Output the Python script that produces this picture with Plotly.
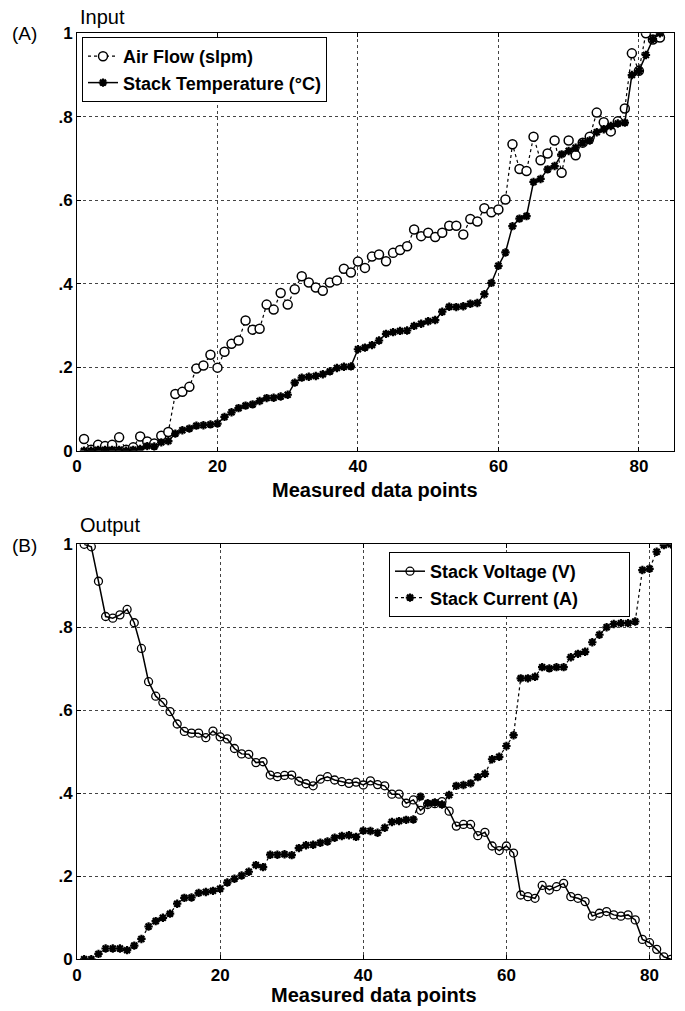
import plotly.graph_objects as go

# ---------------- data ----------------
points = list(range(1, 84))

air_flow = [0.028, 0.002, 0.014, 0.011, 0.014, 0.032, 0.002, 0.008, 0.034, 0.022,
            0.017, 0.036, 0.045, 0.136, 0.141, 0.153, 0.197, 0.204, 0.230, 0.199,
            0.237, 0.256, 0.264, 0.312, 0.290, 0.292, 0.350, 0.338, 0.378, 0.350,
            0.387, 0.418, 0.403, 0.391, 0.383, 0.403, 0.408, 0.436, 0.427, 0.453,
            0.438, 0.465, 0.470, 0.454, 0.474, 0.481, 0.490, 0.530, 0.514, 0.522,
            0.512, 0.522, 0.539, 0.539, 0.518, 0.555, 0.549, 0.581, 0.571, 0.578,
            0.602, 0.734, 0.675, 0.670, 0.752, 0.696, 0.712, 0.743, 0.666, 0.743,
            0.708, 0.738, 0.752, 0.810, 0.787, 0.765, 0.789, 0.820, 0.952, 0.910,
            1.000, 0.985, 0.990]

stack_temp = [0.000, 0.000, 0.002, 0.002, 0.002, 0.002, 0.000, 0.002, 0.004, 0.011,
              0.010, 0.020, 0.023, 0.041, 0.049, 0.053, 0.060, 0.061, 0.063, 0.065,
              0.081, 0.092, 0.102, 0.108, 0.111, 0.119, 0.126, 0.127, 0.130, 0.134,
              0.163, 0.175, 0.177, 0.179, 0.183, 0.190, 0.198, 0.201, 0.202, 0.243,
              0.247, 0.253, 0.264, 0.280, 0.284, 0.287, 0.288, 0.299, 0.304, 0.310,
              0.313, 0.333, 0.345, 0.344, 0.346, 0.352, 0.354, 0.375, 0.402, 0.443,
              0.475, 0.538, 0.556, 0.562, 0.644, 0.651, 0.674, 0.682, 0.710, 0.718,
              0.726, 0.738, 0.743, 0.763, 0.770, 0.778, 0.784, 0.786, 0.900, 0.910,
              0.948, 0.986, 1.000]

stack_voltage = [1.000, 0.994, 0.911, 0.826, 0.822, 0.830, 0.843, 0.811, 0.749, 0.669,
                 0.634, 0.619, 0.597, 0.567, 0.549, 0.545, 0.545, 0.534, 0.550, 0.536,
                 0.531, 0.508, 0.495, 0.494, 0.474, 0.476, 0.444, 0.440, 0.443, 0.444,
                 0.429, 0.423, 0.418, 0.434, 0.440, 0.432, 0.428, 0.424, 0.427, 0.420,
                 0.430, 0.421, 0.418, 0.398, 0.398, 0.376, 0.384, 0.359, 0.373, 0.375,
                 0.380, 0.357, 0.321, 0.325, 0.325, 0.298, 0.306, 0.273, 0.262, 0.273,
                 0.256, 0.155, 0.151, 0.147, 0.178, 0.167, 0.175, 0.183, 0.151, 0.147,
                 0.139, 0.104, 0.111, 0.115, 0.107, 0.104, 0.107, 0.095, 0.048, 0.040,
                 0.024, 0.006, 0.000]

stack_current = [0.000, 0.000, 0.013, 0.026, 0.026, 0.026, 0.022, 0.033, 0.049, 0.079,
                 0.092, 0.100, 0.110, 0.134, 0.148, 0.149, 0.160, 0.162, 0.165, 0.170,
                 0.185, 0.194, 0.202, 0.211, 0.227, 0.222, 0.252, 0.252, 0.253, 0.251,
                 0.268, 0.275, 0.276, 0.281, 0.284, 0.293, 0.297, 0.299, 0.295, 0.310,
                 0.309, 0.305, 0.317, 0.331, 0.333, 0.336, 0.337, 0.392, 0.376, 0.378,
                 0.373, 0.396, 0.418, 0.420, 0.424, 0.439, 0.447, 0.482, 0.488, 0.514,
                 0.540, 0.677, 0.677, 0.681, 0.704, 0.701, 0.704, 0.704, 0.728, 0.736,
                 0.741, 0.764, 0.782, 0.800, 0.808, 0.810, 0.810, 0.814, 0.938, 0.941,
                 0.982, 0.998, 1.000]

x_ticks = [0, 20, 40, 60, 80]
y_ticks = [0, 0.2, 0.4, 0.6, 0.8, 1.0]
y_tick_text = ["0", ".2", ".4", ".6", ".8", "1"]

# ---------------- figure ----------------
FONT = "Liberation Sans, Arial, Helvetica, sans-serif"
W, H = 685, 1011
PAD = "\u00a0" * 9

fig = go.Figure()

fig.add_trace(go.Scatter(
    x=points, y=air_flow, name="Air Flow (slpm)", mode="lines+markers",
    line=dict(color="black", width=1.2, dash="dot"),
    marker=dict(symbol="circle", size=9, color="white",
                line=dict(color="black", width=1.5)),
    xaxis="x", yaxis="y", legend="legend"))
fig.add_trace(go.Scatter(
    x=points, y=stack_temp, name="Stack Temperature (°C)", mode="lines+markers",
    line=dict(color="black", width=1.5),
    marker=dict(symbol="asterisk-open", size=7, color="black",
                line=dict(color="black", width=2.2)),
    xaxis="x", yaxis="y", legend="legend"))

fig.add_trace(go.Scatter(
    x=points, y=stack_voltage, name="Stack Voltage (V)" + PAD, mode="lines+markers",
    line=dict(color="black", width=1.5),
    marker=dict(symbol="circle-open", size=8, color="black",
                line=dict(color="black", width=1.3)),
    xaxis="x2", yaxis="y2", legend="legend2"))
fig.add_trace(go.Scatter(
    x=points, y=stack_current, name="Stack Current (A)" + PAD, mode="lines+markers",
    line=dict(color="black", width=1.2, dash="dot"),
    marker=dict(symbol="asterisk-open", size=7, color="black",
                line=dict(color="black", width=2.2)),
    xaxis="x2", yaxis="y2", legend="legend2"))

axis_common = dict(
    showline=True, mirror="ticks", linecolor="black", linewidth=1,
    ticks="inside", ticklen=4, tickcolor="black",
    showgrid=True, gridcolor="#444444", griddash="dot", gridwidth=1,
    zeroline=False, automargin=False,
    tickfont=dict(family=FONT, size=17, color="black", weight="bold"),
)

legend_common = dict(
    bgcolor="white", bordercolor="black", borderwidth=1,
    font=dict(family=FONT, size=18, color="black", weight="bold"),
    xanchor="left", yanchor="top", tracegroupgap=0, itemwidth=30,
)

fig.update_layout(
    width=W, height=H,
    margin=dict(l=0, r=0, t=0, b=0, autoexpand=False),
    paper_bgcolor="white", plot_bgcolor="white",
    font=dict(family=FONT, color="black"),
    xaxis=dict(domain=[77 / W, 674 / W], range=[0, 85], tickvals=x_ticks,
               anchor="y", **axis_common),
    yaxis=dict(domain=[1 - 450.7 / H, 1 - 33.3 / H], range=[0, 1],
               tickvals=y_ticks, ticktext=y_tick_text, anchor="x", **axis_common),
    xaxis2=dict(domain=[77 / W, 671 / W], range=[0, 83], tickvals=x_ticks,
                anchor="y2", **axis_common),
    yaxis2=dict(domain=[1 - 959.3 / H, 1 - 544.3 / H], range=[0, 1],
                tickvals=y_ticks, ticktext=y_tick_text, anchor="x2", **axis_common),
    legend=dict(x=82 / W, y=1 - 37 / H, **legend_common),
    legend2=dict(x=389 / W, y=1 - 552 / H, **legend_common),
    showlegend=True,
)

annots = [
    dict(text="(A)", x=10 / W, y=1 - 33 / H, xanchor="left", size=19, bold=False),
    dict(text="Input", x=78 / W, y=1 - 17 / H, xanchor="left", size=20, bold=False),
    dict(text="(B)", x=10 / W, y=1 - 545 / H, xanchor="left", size=19, bold=False),
    dict(text="Output", x=78 / W, y=1 - 525 / H, xanchor="left", size=20, bold=False),
    dict(text="Measured data points", x=375 / W, y=1 - 490 / H, xanchor="center", size=20, bold=True),
    dict(text="Measured data points", x=374 / W, y=1 - 995 / H, xanchor="center", size=20, bold=True),
]
for a in annots:
    fig.add_annotation(
        text=a["text"], x=a["x"], y=a["y"], xref="paper", yref="paper",
        xanchor=a["xanchor"], yanchor="middle", showarrow=False,
        font=dict(family=FONT, size=a["size"], color="black",
                  weight="bold" if a["bold"] else "normal"))

fig.write_html("out.html")
